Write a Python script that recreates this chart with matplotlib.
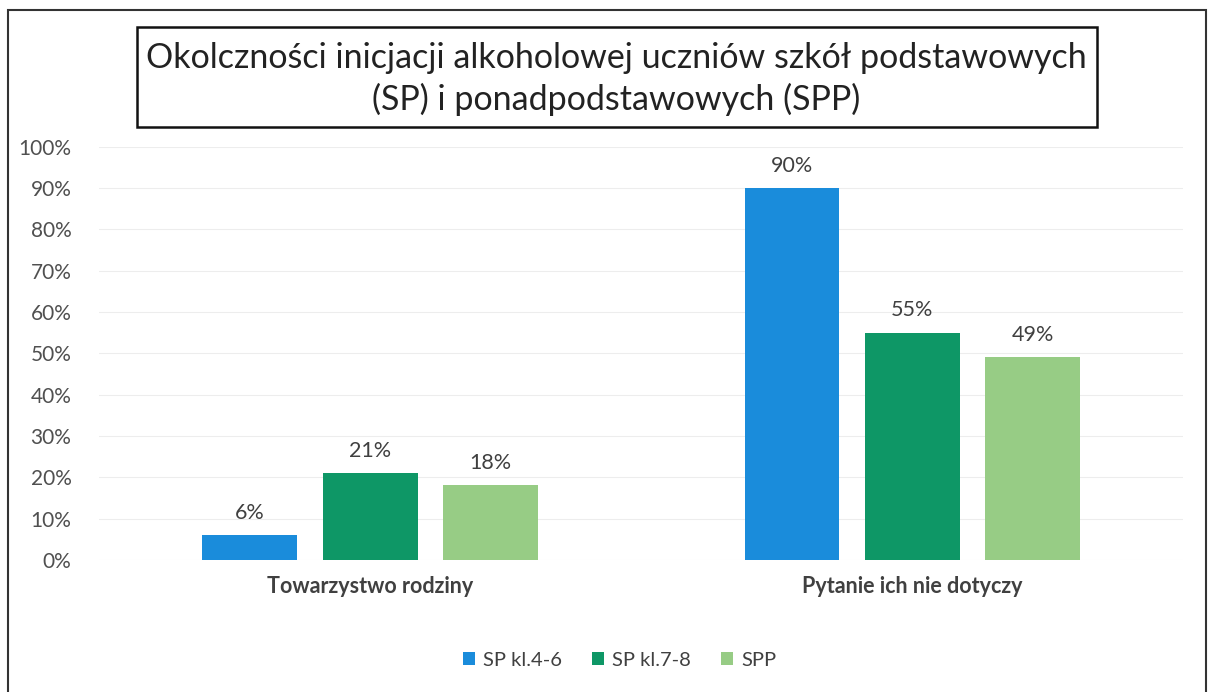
import numpy as np
import matplotlib.pyplot as plt
from matplotlib.patches import Rectangle

plt.rcParams['font.family'] = ['Lato', 'DejaVu Sans']

categories = ["Towarzystwo rodziny", "Pytanie ich nie dotyczy"]
series_names = ["SP kl.4-6", "SP kl.7-8", "SPP"]
sp46 = [6, 90]
sp78 = [21, 55]
spp = [18, 49]
colors = ["#1A8CDB", "#0E9766", "#97CC85"]

fig = plt.figure(figsize=(12.1, 6.92), dpi=100)
ax = fig.add_axes([0.082, 0.191, 0.896, 0.597])

x = np.arange(len(categories))
width = 0.175
step = 0.222
for i, (vals, name, col) in enumerate(zip([sp46, sp78, spp], series_names, colors)):
    pos = x + (i - 1) * step
    bars = ax.bar(pos, vals, width, color=col, label=name, zorder=3)
    for b, v in zip(bars, vals):
        ax.annotate(f"{v}%", (b.get_x() + b.get_width() / 2, v),
                    xytext=(0, 9), textcoords="offset points",
                    ha="center", va="bottom", fontsize=15.5, color="#404040")

ax.set_xlim(-0.5, 1.5)
ax.set_ylim(0, 100)
ax.set_yticks(range(0, 101, 10))
ax.set_yticklabels([f"{t}%" for t in range(0, 101, 10)])
ax.tick_params(axis='y', length=0, labelsize=15, labelcolor="#505050", pad=20)
ax.set_xticks(x)
ax.set_xticklabels(categories, fontweight="bold")
ax.tick_params(axis='x', length=0, labelsize=15.5, labelcolor="#404040", pad=12)
ax.grid(axis='y', color="#EDEDED", linewidth=0.8, zorder=0)
for s in ax.spines.values():
    s.set_visible(False)

# title in a box
fig.text(0.509, 0.886, "Okolczności inicjacji alkoholowej uczniów szkół podstawowych\n(SP) i ponadpodstawowych (SPP)",
         ha="center", va="center", fontsize=24.5, color="#222222", linespacing=1.3)
fig.add_artist(Rectangle((137 / 1210, 1 - 127 / 692), 960 / 1210, 100 / 692,
                         transform=fig.transFigure, fill=False, edgecolor="#111111", linewidth=1.8))

# outer border
fig.add_artist(Rectangle((8 / 1210, -0.05), 1198 / 1210, 1.05 - 10 / 692,
                         transform=fig.transFigure, fill=False, edgecolor="#333333", linewidth=1.5))

fig.legend(loc="center", bbox_to_anchor=(0.512, 1 - 660 / 692), ncol=3, frameon=False,
           fontsize=14.5, handlelength=0.6, handleheight=0.6, handletextpad=0.4,
           columnspacing=1.5, labelcolor="#404040")

fig.savefig("out.png", dpi=100)
